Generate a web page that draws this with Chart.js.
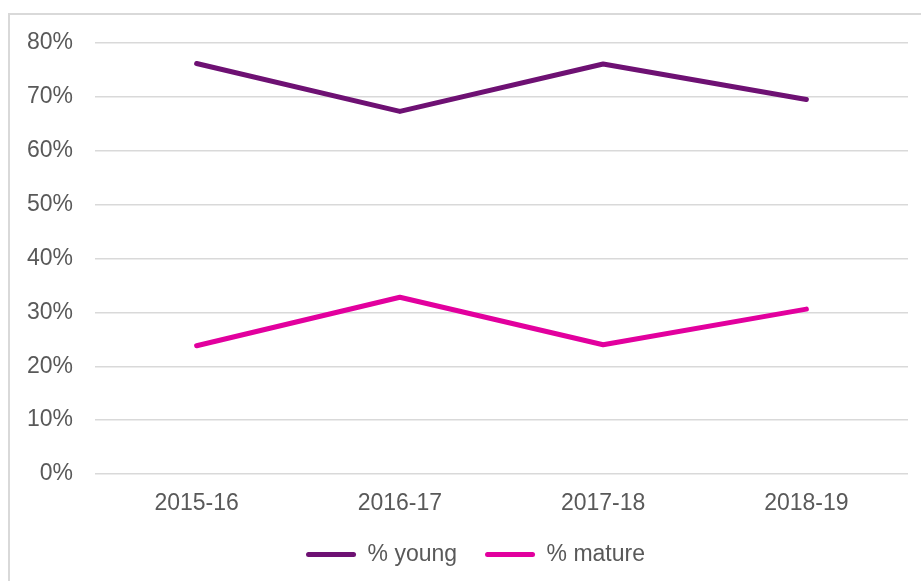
<!DOCTYPE html>
<html>
<head>
<meta charset="utf-8">
<script src="https://cdn.jsdelivr.net/npm/chart.js@4"></script>
<style>
  html, body { margin: 0; padding: 0; overflow: hidden; background: #fff; }
  #frame { position: absolute; left: 8px; top: 13px; width: 1000px; height: 1000px; border: 2px solid #d9d9d9; }
  #wrap { position: absolute; left: 0; top: 0; width: 921px; height: 581px; }
</style>
</head>
<body>
<div id="frame"></div>
<div id="wrap"><canvas id="chart" width="921" height="581"></canvas></div>
<script>
// categories and series (percent)
const years = ['2015-16', '2016-17', '2017-18', '2018-19'];
const young = [76.2, 67.3, 76.1, 69.5];
const mature = [23.8, 32.8, 24.0, 30.6];
const yTicks = [0, 10, 20, 30, 40, 50, 60, 70, 80];

const font = { family: '"Liberation Sans", Arial, sans-serif', size: 23 };
const textColor = '#595959';

// nudge the legend a bit right, like the original
const legendShift = {
    id: 'legendShift',
    afterLayout(chart) {
        if (chart.legend) chart.legend.left += 43;
    }
};

const ctx = document.getElementById('chart').getContext('2d');
new Chart(ctx, {
    type: 'line',
    data: {
        labels: years,
        datasets: [{
            label: '% young',
            data: young,
            borderColor: '#6E1173',
            backgroundColor: '#6E1173',
            borderWidth: 5,
            borderCapStyle: 'round',
            borderJoinStyle: 'round',
            pointRadius: 0,
            tension: 0
        }, {
            label: '% mature',
            data: mature,
            borderColor: '#E2009E',
            backgroundColor: '#E2009E',
            borderWidth: 5,
            borderCapStyle: 'round',
            borderJoinStyle: 'round',
            pointRadius: 0,
            tension: 0
        }]
    },
    plugins: [legendShift],
    options: {
        responsive: false,
        animation: false,
        layout: { padding: { top: 43, right: 13, left: 0, bottom: 5 } },
        plugins: {
            tooltip: { enabled: false },
            legend: {
                position: 'bottom',
                labels: {
                    font: font,
                    color: textColor,
                    boxWidth: 50,
                    boxHeight: 5,
                    padding: 28,
                    useBorderRadius: true,
                    borderRadius: 2.5,
                    generateLabels: function (chart) {
                        return Chart.defaults.plugins.legend.labels.generateLabels(chart)
                            .map(l => Object.assign(l, { lineWidth: 0 }));
                    }
                }
            }
        },
        scales: {
            x: {
                offset: true,
                grid: { display: false, drawTicks: false },
                border: { display: false },
                ticks: { font: font, color: textColor, padding: 16, maxRotation: 0 },
                afterFit: s => { s.height = 41; }
            },
            y: {
                min: 0,
                max: 80,
                afterBuildTicks: s => { s.ticks = yTicks.map(v => ({ value: v })); },
                grid: { color: '#d9d9d9', lineWidth: 1.5, drawTicks: false },
                border: { display: false },
                ticks: {
                    font: font,
                    color: textColor,
                    padding: 22,
                    callback: v => v + '%'
                },
                afterFit: s => { s.width = 95; }
            }
        }
    }
});
</script>
</body>
</html>
